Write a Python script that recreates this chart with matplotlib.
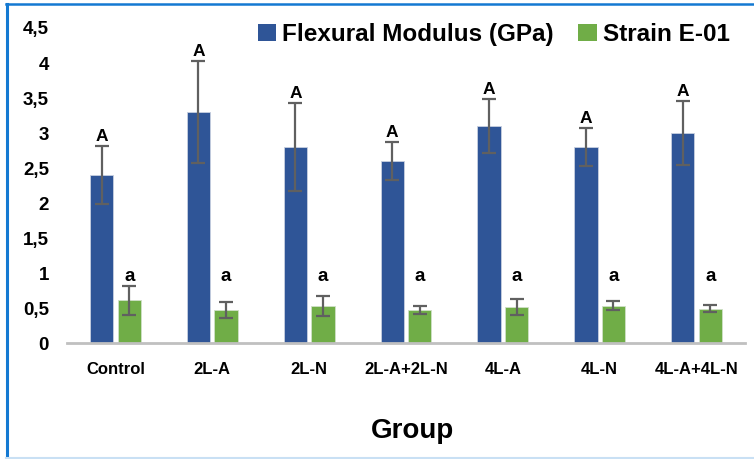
import matplotlib
matplotlib.use("Agg")
import matplotlib.pyplot as plt
import numpy as np
from matplotlib.lines import Line2D
from matplotlib.patches import Patch

groups = ["Control", "2L-A", "2L-N", "2L-A+2L-N", "4L-A", "4L-N", "4L-A+4L-N"]
modulus = [2.4, 3.3, 2.8, 2.6, 3.1, 2.8, 3.0]
modulus_err = [0.41, 0.73, 0.63, 0.27, 0.38, 0.27, 0.46]
strain = [0.61, 0.47, 0.53, 0.47, 0.51, 0.53, 0.49]
strain_err = [0.21, 0.11, 0.14, 0.055, 0.115, 0.065, 0.05]
modulus_letters = ["A"] * 7
strain_letters = ["a"] * 7

BLUE = "#2F5597"
GREEN = "#70AD47"
ERR = "#606060"

plt.rcParams["font.family"] = ["Liberation Sans", "DejaVu Sans"]
plt.rcParams["font.weight"] = "bold"

fig = plt.figure(figsize=(7.54, 4.59), dpi=100)
ax = fig.add_axes([0.0889, 0.2527, 0.8991, 0.6863])

x = np.arange(len(groups))
w = 0.24
gap = 0.045
xb = x - (w + gap) / 2
xg = x + (w + gap) / 2

ax.bar(xb, modulus, w, color=BLUE, edgecolor="#c8d0e0", linewidth=0.6, zorder=2)
ax.bar(xg, strain, w, color=GREEN, edgecolor="#d0e0c8", linewidth=0.6, zorder=2)
ax.errorbar(xb, modulus, yerr=modulus_err, fmt="none", ecolor=ERR,
            elinewidth=1.6, capsize=5, capthick=1.6, zorder=3)
ax.errorbar(xg, strain, yerr=strain_err, fmt="none", ecolor=ERR,
            elinewidth=1.6, capsize=5, capthick=1.6, zorder=3)

# significance letters
for xi, v, e, t in zip(xb, modulus, modulus_err, modulus_letters):
    ax.text(xi, v + e + 0.03, t, ha="center", va="bottom", fontsize=12.5,
            fontweight="bold", clip_on=False)
for xi, t in zip(xg, strain_letters):
    ax.text(xi, 0.95, t, ha="center", va="center", fontsize=13.5,
            fontweight="bold")

ax.set_xlim(-0.5, len(groups) - 0.5)
ax.set_ylim(0, 4.5)
yt = np.arange(0, 4.51, 0.5)
ax.set_yticks(yt)
ax.set_yticklabels([f"{v:g}".replace(".", ",") for v in yt],
                   fontsize=13.5, fontweight="bold")
ax.set_xticks(x)
ax.set_xticklabels(groups, fontsize=12, fontweight="bold")
ax.tick_params(axis="y", length=0, pad=13)
ax.tick_params(axis="x", length=0, pad=14)

for side in ["top", "right", "left"]:
    ax.spines[side].set_visible(False)
ax.spines["bottom"].set_color("#c0c0c0")
ax.spines["bottom"].set_linewidth(2)

fig.text(413 / 754, 1 - 431 / 459, "Group", ha="center", va="center",
         fontsize=20, fontweight="heavy")

handles = [Patch(facecolor=BLUE), Patch(facecolor=GREEN)]
fig.legend(handles, ["Flexural Modulus (GPa)", "Strain E-01"],
           loc="center", bbox_to_anchor=(0.655, 0.925), ncol=2, frameon=False,
           prop={"size": 17.5, "weight": "bold"}, handlelength=0.75,
           handleheight=0.75, handletextpad=0.25, columnspacing=1.0)

# frame around the figure
fig.add_artist(Line2D([6 / 754, 1], [1 - 4 / 459] * 2, color="#1479d2", lw=1.8))
fig.add_artist(Line2D([6.5 / 754] * 2, [0, 1 - 4 / 459], color="#1479d2", lw=2.2))
fig.add_artist(Line2D([6 / 754, 1], [1.5 / 459] * 2, color="#c9e0f4", lw=1.5))

fig.savefig("out.png", dpi=100, facecolor="white")
